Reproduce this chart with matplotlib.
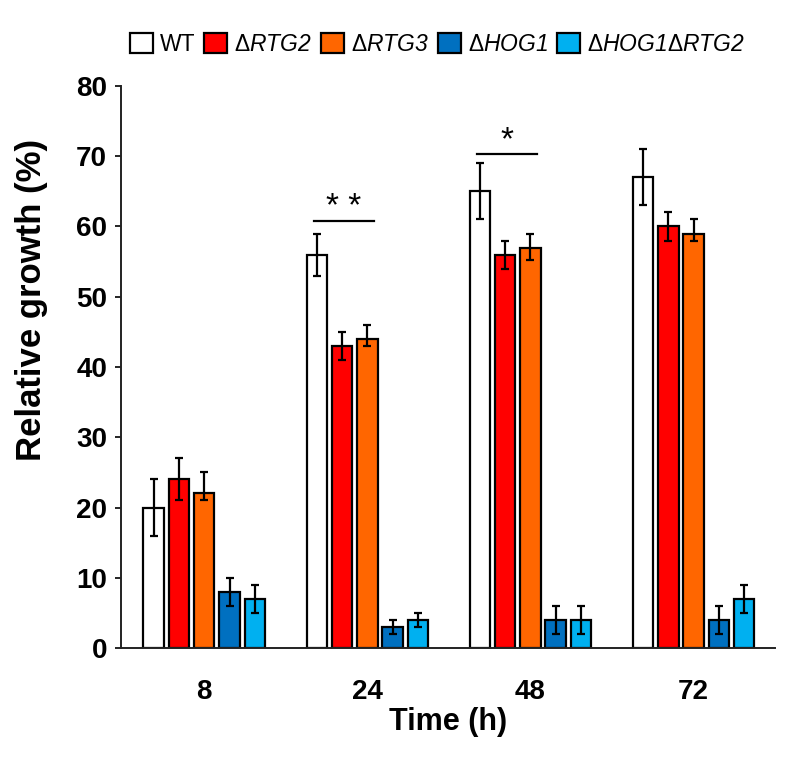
import numpy as np
import matplotlib.pyplot as plt

plt.rcParams["font.family"] = ["Liberation Sans", "DejaVu Sans"]
plt.rcParams["mathtext.fontset"] = "custom"
plt.rcParams["mathtext.rm"] = "Liberation Sans:italic"
plt.rcParams["mathtext.it"] = "Liberation Sans:italic"

# data
times = ["8", "24", "48", "72"]
strains = ["WT", r"Δ$RTG2$", r"Δ$RTG3$", r"Δ$HOG1$", r"Δ$HOG1$Δ$RTG2$"]
colors = ["#FFFFFF", "#FF0000", "#FF6600", "#0070C0", "#00B0F0"]

wt = [20, 56, 65, 67]
rtg2 = [24, 43, 56, 60]
rtg3 = [22, 44, 57, 59]
hog1 = [8, 3, 4, 4]
hog1_rtg2 = [7, 4, 4, 7]

wt_err = [4, 3, 4, 4]
rtg2_err = [3, 2, 2, 2]
rtg3_err_up = [3, 2, 2, 2]
rtg3_err_low = [1, 1, 1.7, 1]
hog1_err = [2, 1, 2, 2]
hog1_rtg2_err = [2, 1, 2, 2]

values = [wt, rtg2, rtg3, hog1, hog1_rtg2]
errors = [
    [wt_err, wt_err],
    [rtg2_err, rtg2_err],
    [rtg3_err_low, rtg3_err_up],
    [hog1_err, hog1_err],
    [hog1_rtg2_err, hog1_rtg2_err],
]

# significance marks
sig_groups = [1, 2]
sig_levels = [60.8, 70.3]
sig_labels = ["* *", "*"]

fig = plt.figure(figsize=(7.91, 7.63), dpi=100)
ax = fig.add_axes([0.153, 0.1507, 0.827, 0.7366])

x = np.arange(len(times))
width = 0.126
step = 0.155

for i, (vals, err, col, lab) in enumerate(zip(values, errors, colors, strains)):
    pos = x + (i - 2) * step
    ax.bar(pos, vals, width=width, color=col, edgecolor="black",
           linewidth=1.6, label=lab, zorder=2)
    ax.errorbar(pos, vals, yerr=np.array(err), fmt="none", ecolor="black",
                elinewidth=1.6, capsize=3.2, capthick=1.6, zorder=3)

for g, lvl, lab in zip(sig_groups, sig_levels, sig_labels):
    x0 = g - 2 * step - 0.02
    x1 = g + 0.04
    ax.plot([x0, x1], [lvl, lvl], color="black", linewidth=1.6, zorder=3)
    ax.text((x0 + x1) / 2, lvl - 0.3, lab, ha="center", va="bottom",
            fontsize=24, zorder=3)

ax.set_xlim(-0.51, 3.50)
ax.set_ylim(0, 80)
ax.set_yticks(np.arange(0, 81, 10))
ax.set_xticks(x)
ax.set_xticklabels(times)

ax.spines["top"].set_visible(False)
ax.spines["right"].set_visible(False)
for s in ["left", "bottom"]:
    ax.spines[s].set_linewidth(1.4)
    ax.spines[s].set_color("#222222")

ax.tick_params(axis="y", direction="out", length=4, width=1.2, labelsize=20,
               pad=6)
ax.tick_params(axis="x", length=0, labelsize=20, pad=22)
for t in ax.get_xticklabels() + ax.get_yticklabels():
    t.set_fontweight("bold")

ax.set_ylabel("Relative growth (%)", fontsize=25, fontweight="bold")
ax.yaxis.set_label_coords(-0.112, 0.62)
ax.set_xlabel("Time (h)", fontsize=22, fontweight="bold", labelpad=2)

fig.legend(loc="upper center", bbox_to_anchor=(0.553, 0.975), ncol=5,
           frameon=False, fontsize=16.5, handlelength=1.0, handleheight=1.0,
           handletextpad=0.3, columnspacing=0.4, borderaxespad=0.2)

fig.savefig("out.png", dpi=100)
